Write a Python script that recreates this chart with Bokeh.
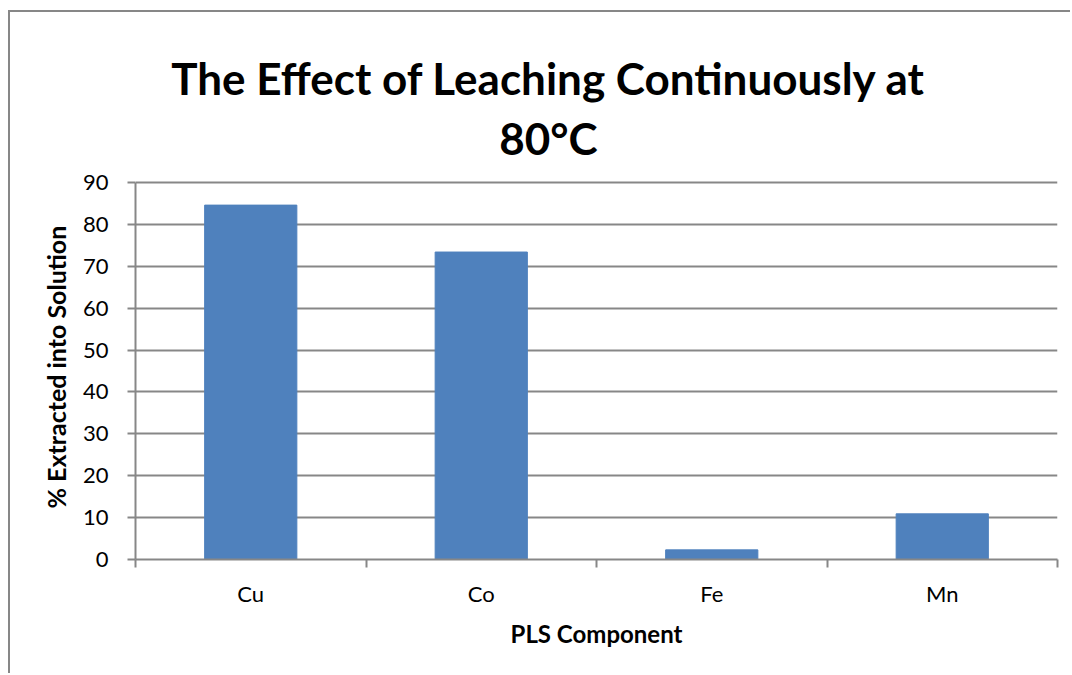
from bokeh.plotting import figure
from bokeh.models import (Range1d, LinearAxis, FixedTicker, Label, Title, Grid,
                          ColumnDataSource)
from bokeh.embed import file_html
from bokeh.resources import INLINE

categories = ["Cu", "Co", "Fe", "Mn"]
values = [84.6, 73.4, 2.3, 10.9]
y_ticks = [0, 10, 20, 30, 40, 50, 60, 70, 80, 90]
title_lines = ["The Effect of Leaching Continuously at", "80°C"]
x_title = "PLS Component"
y_title = "% Extracted into Solution"

GRAY = "#878787"
BAR = "#4F81BD"
FONT = "Lato"

n = len(categories)
centers = [i + 0.5 for i in range(n)]
edges = list(range(n + 1))

# layout (pixels): value axis 0..90 occupies 377 px; the frame extends
# above it so that the two title lines can live inside the frame.
AXIS_PX = 377
ABOVE_PX = 170
y_top = y_ticks[-1] * (AXIS_PX + ABOVE_PX) / AXIS_PX
px = y_ticks[-1] / AXIS_PX  # data units per pixel

p = figure(width=1062, height=663,
           x_range=Range1d(0, n), y_range=Range1d(0, y_top),
           output_backend="svg", toolbar_location=None,
           x_axis_location=None, y_axis_location=None,
           min_border_left=125, min_border_right=15,
           min_border_top=0, min_border_bottom=116)
p.outline_line_color = None
p.background_fill_color = "white"
p.border_fill_color = "white"
p.styles = {"border-left": f"2px solid {GRAY}", "border-top": f"2px solid {GRAY}",
            "margin-top": "10px", "margin-left": "8px"}

# drop the default grids, add value gridlines only
p.center = [r for r in p.center if not isinstance(r, Grid)]
grid = Grid(dimension=1, ticker=FixedTicker(ticks=y_ticks),
            grid_line_color=GRAY, grid_line_width=2)
p.add_layout(grid)

src = ColumnDataSource(data=dict(x=centers, cat=categories, val=values))
p.vbar(x="x", top="val", width=0.4, source=src, fill_color=BAR, line_color=BAR,
       line_width=1)

# y axis (line limited to 0..90)
yax = LinearAxis(ticker=FixedTicker(ticks=y_ticks),
                 bounds=(y_ticks[0], y_ticks[-1]))
yax.axis_line_color = GRAY
yax.axis_line_width = 2
yax.major_tick_line_color = GRAY
yax.major_tick_line_width = 2
yax.major_tick_out = 8
yax.major_tick_in = 0
yax.minor_tick_line_color = None
yax.major_label_standoff = 19
yax.major_label_text_font = FONT
yax.major_label_text_font_size = "22px"
yax.major_label_text_color = "black"
p.add_layout(yax, "left")

# y-axis title, centred on the 0..90 span (starts 51 px above the value axis)
ytitle = Title(text=y_title, align="left", offset=51, standoff=18,
               text_font=FONT, text_font_size="25px", text_font_style="bold",
               text_color="black")
p.add_layout(ytitle, "left")

# x axis: names at bar centres, tick marks at category boundaries
xax = LinearAxis(ticker=FixedTicker(ticks=centers, minor_ticks=edges),
                 axis_label=x_title,
                 major_label_overrides={c: t for c, t in zip(centers, categories)})
xax.axis_line_color = GRAY
xax.axis_line_width = 2
xax.major_tick_line_color = None
xax.major_tick_out = 8
xax.major_tick_in = 0
xax.minor_tick_line_color = GRAY
xax.minor_tick_line_width = 2
xax.minor_tick_out = 8
xax.minor_tick_in = 0
xax.major_label_standoff = 12
xax.major_label_text_font = FONT
xax.major_label_text_font_size = "22px"
xax.major_label_text_color = "black"
xax.axis_label_text_font = FONT
xax.axis_label_text_font_size = "24px"
xax.axis_label_text_font_style = "bold"
xax.axis_label_text_color = "black"
xax.axis_label_standoff = 9
p.add_layout(xax, "below")

# two-line title, baselines 482 px and 422 px above the value axis
title_x = (548 - 135) * n / 922
for txt, off in zip(title_lines, [482, 422]):
    p.add_layout(Label(x=title_x, y=off * px, text=txt, text_align="center",
                       text_baseline="alphabetic", text_font=FONT,
                       text_font_size="44px", text_font_style="bold",
                       text_color="black"))

open("out.html", "w").write(file_html(p, INLINE))
